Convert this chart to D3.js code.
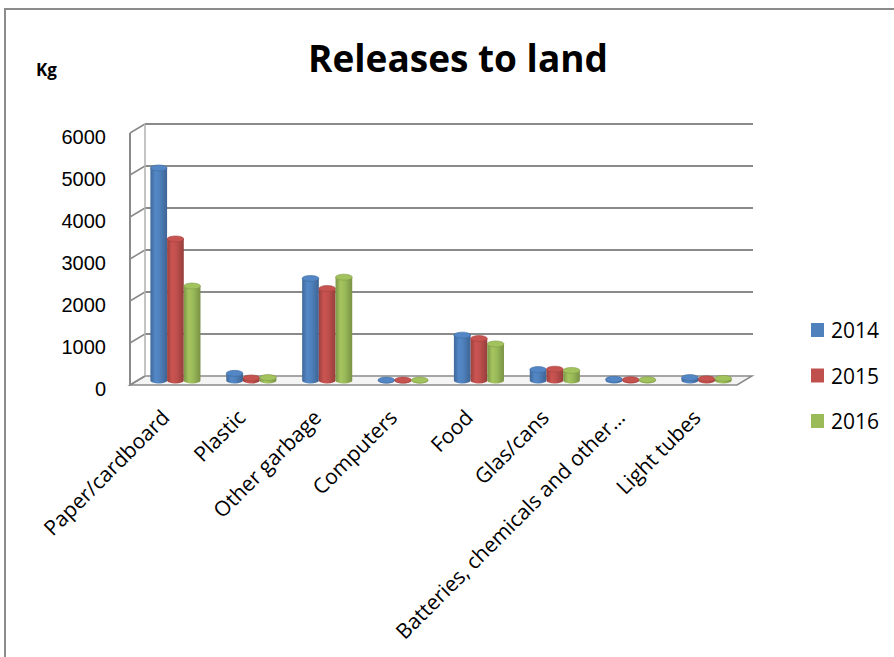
<!DOCTYPE html>
<html><head><meta charset="utf-8">
<script src="https://cdn.jsdelivr.net/npm/d3@7"></script>
<style>body{margin:0;background:#fff}svg{display:block}</style>
</head><body>
<svg id="chart" width="894" height="657"></svg>
<script>
const categories = ["Paper/cardboard","Plastic","Other garbage","Computers","Food","Glas/cans","Batteries, chemicals and other…","Light tubes"];
const seriesNames = ["2014","2015","2016"];
const values2014 = [5060,170,2430,10,1080,260,30,70];
const values2015 = [3370,60,2190,10,1000,270,20,40];
const values2016 = [2250,70,2460,10,870,240,20,50];
const yTicks = [0,1000,2000,3000,4000,5000,6000];
const colors = ["#4F81BD","#C0504D","#9BBB59"];
const allSeries = [values2014, values2015, values2016];

const svg = d3.select("#chart");
const defs = svg.append("defs");
const gridColor = "#8a8a8a";

// geometry
const frontLeft = 130, frontRight = 737;
const dx = 15, dy = -9;
const yFront = d3.scaleLinear().domain([0,6000]).range([385,133]);
const yBack = v => yFront(v) + dy;
const yMid = v => yFront(v) + dy/2;
const x = d3.scaleBand().domain(categories).range([frontLeft + dx/2, frontRight + dx/2]).paddingInner(0.34).paddingOuter(0.17);
const xs = d3.scaleBand().domain(seriesNames).range([0, x.bandwidth()]);

// outer border
svg.append("path").attr("d","M5,657 L5,9 L894,9").attr("fill","none").attr("stroke","#8c8c8c").attr("stroke-width",2);

// title
svg.append("text").attr("x",458).attr("y",72).attr("text-anchor","middle")
  .attr("font-family","'Open Sans', sans-serif").attr("font-weight","bold").attr("font-size",37).attr("fill","#000")
  .text("Releases to land");
svg.append("text").attr("x",36).attr("y",76).attr("font-family","'Open Sans', sans-serif").attr("font-weight","bold").attr("font-size",17).text("Kg");

// floor
svg.append("path")
  .attr("d",`M${frontLeft},${yFront(0)} L${frontRight},${yFront(0)} L${frontRight+dx},${yBack(0)} L${frontLeft+dx},${yBack(0)} Z`)
  .attr("fill","#f4f4f4").attr("stroke",gridColor).attr("stroke-width",1.5);

// back wall gridlines + left wall ticks
const grid = svg.append("g");
yTicks.forEach(t => {
  if (t > 0) grid.append("line").attr("x1",frontLeft+dx).attr("x2",frontRight+dx+1).attr("y1",yBack(t)).attr("y2",yBack(t))
    .attr("stroke",gridColor).attr("stroke-width",2);
  grid.append("line").attr("x1",frontLeft).attr("y1",yFront(t)).attr("x2",frontLeft+dx).attr("y2",yBack(t))
    .attr("stroke",gridColor).attr("stroke-width",1.5);
});
grid.append("line").attr("x1",frontLeft).attr("x2",frontLeft).attr("y1",yFront(6000)).attr("y2",yFront(0)+1).attr("stroke",gridColor).attr("stroke-width",2);
grid.append("line").attr("x1",frontLeft+dx).attr("x2",frontLeft+dx).attr("y1",yBack(6000)).attr("y2",yBack(0)).attr("stroke","#b0b0b0").attr("stroke-width",1.5);

// y tick labels
svg.append("g").selectAll("text").data(yTicks).join("text")
  .attr("x",106).attr("y",d=>yFront(d)+4).attr("dy","0.35em").attr("text-anchor","end")
  .attr("font-family","'Liberation Sans', Arial, sans-serif").attr("font-size",20).attr("fill","#000")
  .text(d=>d);

// gradients for cylinders
colors.forEach((c,i) => {
  const base = d3.color(c);
  const g = defs.append("linearGradient").attr("id","cg"+i).attr("x1","0").attr("x2","1").attr("y1","0").attr("y2","0");
  g.append("stop").attr("offset","0%").attr("stop-color",base.darker(0.6));
  g.append("stop").attr("offset","30%").attr("stop-color",base.brighter(0.15));
  g.append("stop").attr("offset","55%").attr("stop-color",base);
  g.append("stop").attr("offset","100%").attr("stop-color",base.darker(0.7));
});

// bars (cylinders)
const ry = 3;
const barsG = svg.append("g");
categories.forEach((cat, ci) => {
  seriesNames.forEach((s, si) => {
    const v = allSeries[si][ci];
    const left = x(cat) + xs(s);
    const w = xs.bandwidth();
    const rx = w/2;
    const cx = left + rx;
    const yT = yMid(v), yB = yMid(0);
    const g = barsG.append("g");
    g.append("path")
      .attr("d",`M${left},${yT} L${left},${yB} A${rx},${ry} 0 0 0 ${left+w},${yB} L${left+w},${yT} Z`)
      .attr("fill",`url(#cg${si})`);
    g.append("ellipse").attr("cx",cx).attr("cy",yT).attr("rx",rx).attr("ry",ry)
      .attr("fill",d3.color(colors[si]).brighter(0.1)).attr("stroke",d3.color(colors[si]).darker(0.5)).attr("stroke-width",0.6);
  });
});

// category labels
svg.append("g").selectAll("text").data(categories).join("text")
  .attr("transform",d=>`translate(${x(d)+x.bandwidth()/2 - dx/2 + 3},${419}) rotate(-45)`)
  .attr("text-anchor","end")
  .attr("font-family","'Open Sans', sans-serif").attr("font-size",21).attr("fill","#000")
  .text(d=>d);

// legend
const leg = svg.append("g");
seriesNames.forEach((s,i) => {
  const y0 = 323 + i*45.5;
  leg.append("rect").attr("x",811).attr("y",y0).attr("width",13).attr("height",14).attr("fill",colors[i]);
  leg.append("text").attr("x",831).attr("y",y0+15).attr("font-family","'Open Sans', sans-serif").attr("font-size",21).attr("fill","#000").text(s);
});
</script>
</body></html>
